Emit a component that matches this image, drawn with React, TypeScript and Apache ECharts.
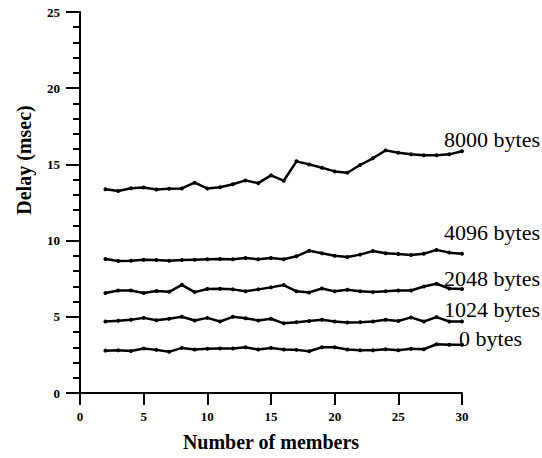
import React, { useEffect, useRef } from "react";
import * as echarts from "echarts";

const members = [2, 3, 4, 5, 6, 7, 8, 9, 10, 11, 12, 13, 14, 15, 16, 17, 18, 19, 20, 21, 22, 23, 24, 25, 26, 27, 28, 29, 30];
const s8000 = [13.37, 13.25, 13.44, 13.49, 13.36, 13.4, 13.42, 13.8, 13.42, 13.5, 13.7, 13.95, 13.77, 14.28, 13.93, 15.2, 15.0, 14.78, 14.54, 14.45, 14.96, 15.4, 15.92, 15.77, 15.66, 15.6, 15.6, 15.66, 15.86];
const s4096 = [8.79, 8.66, 8.68, 8.75, 8.73, 8.68, 8.73, 8.75, 8.77, 8.79, 8.77, 8.86, 8.77, 8.86, 8.78, 8.97, 9.34, 9.17, 9.01, 8.93, 9.08, 9.32, 9.17, 9.12, 9.06, 9.14, 9.39, 9.21, 9.14];
const s2048 = [6.56, 6.73, 6.73, 6.56, 6.69, 6.64, 7.1, 6.62, 6.82, 6.84, 6.8, 6.67, 6.8, 6.93, 7.08, 6.67, 6.6, 6.86, 6.67, 6.78, 6.67, 6.62, 6.67, 6.73, 6.73, 6.99, 7.17, 6.86, 6.82];
const s1024 = [4.69, 4.74, 4.8, 4.93, 4.78, 4.87, 5.0, 4.76, 4.93, 4.69, 5.0, 4.91, 4.76, 4.87, 4.57, 4.65, 4.72, 4.8, 4.69, 4.63, 4.65, 4.69, 4.8, 4.72, 4.96, 4.69, 4.98, 4.69, 4.69];
const s0 = [2.78, 2.8, 2.76, 2.92, 2.83, 2.7, 2.96, 2.85, 2.9, 2.92, 2.92, 3.0, 2.85, 2.96, 2.86, 2.83, 2.74, 3.0, 3.0, 2.85, 2.8, 2.8, 2.87, 2.8, 2.9, 2.87, 3.2, 3.16, 3.16];

const seriesNames = ["8000 bytes", "4096 bytes", "2048 bytes", "1024 bytes", "0 bytes"];
const seriesValues = [s8000, s4096, s2048, s1024, s0];
const xTitle = "Number of members";
const yTitle = "Delay (msec)";

const FONT = "Liberation Serif";

export default function App() {
  const ref = useRef<HTMLDivElement>(null);
  useEffect(() => {
    if (!ref.current) return;
    const chart = echarts.init(ref.current, null, { renderer: "svg" });
    const labelPos = [
      { x: 540, y: 139 },
      { x: 540, y: 232 },
      { x: 540, y: 278 },
      { x: 540, y: 309 },
      { x: 522, y: 338 },
    ];
    const textStyle = (text: string, size: number, weight: string, align: string) => ({
      text,
      fill: "#000",
      fontFamily: FONT,
      fontSize: size,
      fontWeight: weight,
      textAlign: align,
      textVerticalAlign: "middle",
    });
    chart.setOption({
      animation: false,
      backgroundColor: "#fff",
      textStyle: { fontFamily: FONT },
      grid: { left: 80, right: 80, top: 12, bottom: 65, containLabel: false },
      xAxis: {
        type: "value",
        min: 0,
        max: 30,
        interval: 5,
        axisLine: { show: true, onZero: false, lineStyle: { color: "#000", width: 2 } },
        axisTick: { show: true, length: 12, lineStyle: { color: "#000", width: 2 } },
        axisLabel: { color: "#000", fontFamily: FONT, fontSize: 13, fontWeight: "bold", margin: 17 },
        splitLine: { show: false },
      },
      yAxis: [
        {
          type: "value",
          min: 0,
          max: 25,
          interval: 5,
          axisLine: { show: true, onZero: false, lineStyle: { color: "#000", width: 2 } },
          axisTick: { show: true, length: 14, lineStyle: { color: "#000", width: 2 } },
          axisLabel: { color: "#000", fontFamily: FONT, fontSize: 13, fontWeight: "bold", margin: 20 },
          splitLine: { show: false },
        },
        {
          type: "value",
          position: "left",
          min: 0,
          max: 25,
          interval: 1,
          axisLine: { show: true, onZero: false, lineStyle: { color: "rgba(0,0,0,0)", width: 1 } },
          axisTick: { show: true, length: 7, lineStyle: { color: "#000", width: 2 } },
          axisLabel: { show: false },
          splitLine: { show: false },
        },
      ],
      series: seriesValues.map((vals, i) => ({
        name: seriesNames[i],
        type: "line",
        data: members.map((m, j) => [m, vals[j]]),
        symbol: "circle",
        symbolSize: 4,
        showSymbol: true,
        lineStyle: { color: "#000", width: 2.5 },
        itemStyle: { color: "#000" },
        z: 3,
      })),
      graphic: [
        ...seriesNames.map((name, i) => ({
          type: "text",
          x: labelPos[i].x,
          y: labelPos[i].y,
          z: 10,
          style: textStyle(name, 22, "normal", "right"),
        })),
        {
          type: "text",
          x: 271,
          y: 442,
          style: textStyle(xTitle, 20, "bold", "center"),
        },
        {
          type: "text",
          x: 24,
          y: 160,
          rotation: Math.PI / 2,
          style: textStyle(yTitle, 20, "bold", "center"),
        },
      ],
    });
    return () => chart.dispose();
  }, []);
  return (
    <div
      ref={ref}
      style={{ position: "absolute", left: 0, top: 0, width: 542, height: 458 }}
    />
  );
}
